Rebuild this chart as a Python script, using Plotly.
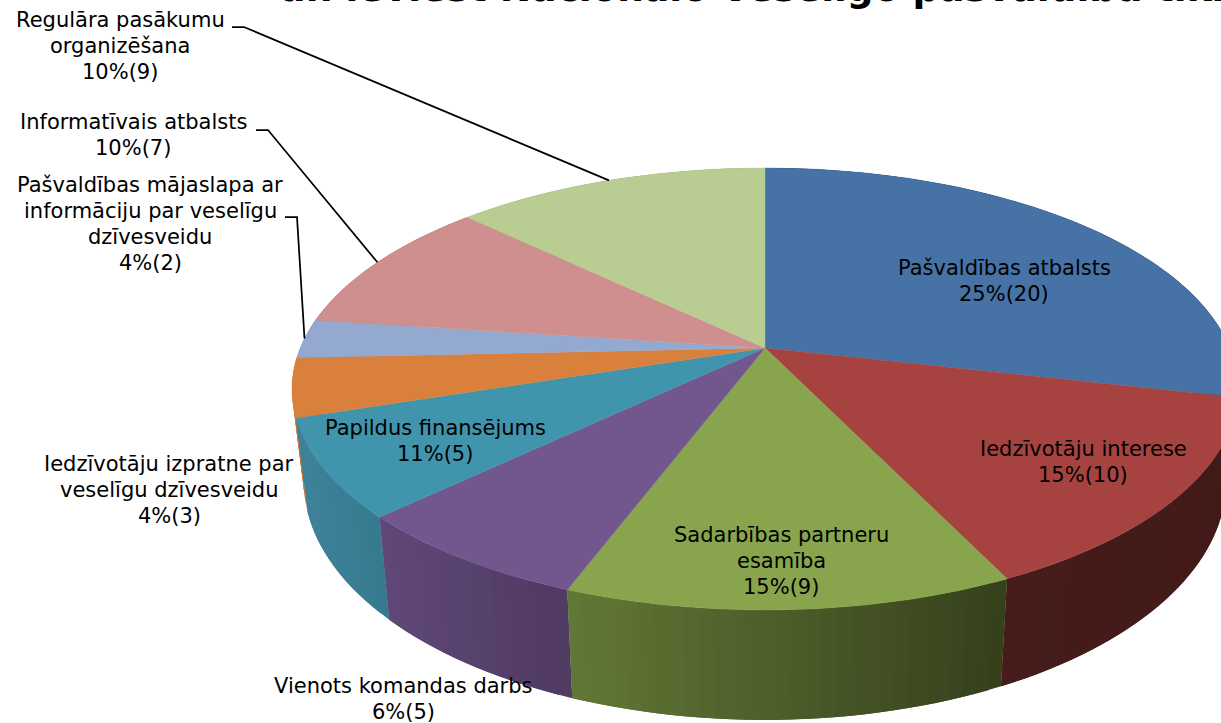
import math
import plotly.graph_objects as go

# ---- data ----
categories = ["Pašvaldības atbalsts", "Iedzīvotāju interese", "Sadarbības partneru<br>esamība",
              "Vienots komandas darbs", "Papildus finansējums",
              "Iedzīvotāju izpratne par<br>veselīgu dzīvesveidu",
              "Pašvaldības mājaslapa ar<br>informāciju par veselīgu<br>dzīvesveidu",
              "Informatīvais atbalsts", "Regulāra pasākumu<br>organizēšana"]
counts = [20, 10, 9, 5, 5, 3, 2, 7, 9]
percents = [25, 15, 15, 6, 11, 4, 4, 10, 10]
top_colors = ["#4672A6", "#A64340", "#88A54D", "#72578E", "#4095AD", "#D8803C", "#93A9CF", "#CF8F8E", "#B9CC92"]
side_left = ["#2a4468", "#451C19", "#627836", "#5F4878", "#3F8299", "#C9763A", "#7f93b5", "#b07a79", "#9fb07c"]
side_right = ["#2a4468", "#421A18", "#35401C", "#4F3A62", "#367A90", "#C9763A", "#7f93b5", "#b07a79", "#9fb07c"]
label_pos = [(1004, 281), (1083, 462), (781, 561), (403, 699), (435, 441), (169, 490), (150, 224), (133, 135), (120, 46)]
title_text = "un ieviest Nacionālo Veselīgo pašvaldību tīklā"
leaders = {8: [(232, 27), (244, 27)], 7: [(256, 130), (268, 130)], 6: [(285, 217), (297, 217)]}

# ---- projection of the tilted pie ----
CX, CY = 765.0, 348.0
A, B, K = 464.8, 213.4, 0.1855
XS, YS, DROP = 0.975, 1.078, 89.5
LINE_STEP = 25.8


def rim(t):
    w = 1 + K * math.cos(t)
    return CX + A * math.sin(t) / w, CY - B * math.cos(t) / w


def ring(t):
    x, y = rim(t)
    return CX + XS * (x - CX), CY + DROP + YS * (y - CY)


def mix(c1, c2, f):
    a = [int(c1[i:i + 2], 16) for i in (1, 3, 5)]
    b = [int(c2[i:i + 2], 16) for i in (1, 3, 5)]
    return "#%02x%02x%02x" % tuple(round(p + (q - p) * f) for p, q in zip(a, b))


total = sum(counts)
edges = [0.0]
for c in counts:
    edges.append(edges[-1] + 2 * math.pi * c / total)

fig = go.Figure()


def poly(xs, ys, color, width=0.0):
    fig.add_trace(go.Scatter(x=xs, y=ys, mode="lines", fill="toself", fillcolor=color,
                             line=dict(color=color, width=width), hoverinfo="skip", showlegend=False))


# walls, back to front; every strip runs on under the next one so no seam shows
order = sorted(range(len(counts)), key=lambda i: -abs((edges[i] + edges[i + 1]) / 2 - math.pi))
for i in order:
    a, b = edges[i], edges[i + 1]
    steps = max(2, int((b - a) / math.radians(1.5)))
    x_left, x_right = min(rim(a)[0], rim(b)[0]), max(rim(a)[0], rim(b)[0])
    for s in range(steps):
        t0 = a + (b - a) * s / steps
        t1 = a + (b - a) * min(s + 2, steps) / steps
        tm = a + (b - a) * (s + 0.5) / steps
        pts_top = [rim(t0), rim((t0 + t1) / 2), rim(t1)]
        pts_bot = [ring(t1), ring((t0 + t1) / 2), ring(t0)]
        f = (rim(tm)[0] - x_left) / max(x_right - x_left, 1)
        outline = pts_top + pts_bot + [pts_top[0]]
        poly([p[0] for p in outline], [p[1] for p in outline],
             mix(side_left[i], side_right[i], min(max(f, 0), 1)))

# top faces
for i in range(len(counts)):
    a, b = edges[i], edges[i + 1]
    steps = max(2, int((b - a) / math.radians(1)))
    pts = [rim(a + (b - a) * s / steps) for s in range(steps + 1)]
    poly([CX] + [p[0] for p in pts] + [CX], [CY] + [p[1] for p in pts] + [CY], top_colors[i], 0.4)

# leader lines end on the rim at the slice's mid angle
for i, pts in leaders.items():
    end = rim((edges[i] + edges[i + 1]) / 2)
    fig.add_trace(go.Scatter(x=[p[0] for p in pts] + [end[0]], y=[p[1] for p in pts] + [end[1]], mode="lines",
                             line=dict(color="#000000", width=1.75), hoverinfo="skip", showlegend=False))

annotations = []
for name, cnt, pct, (lx, ly) in zip(categories, counts, percents, label_pos):
    lines = name.split("<br>") + [f"{pct}%({cnt})"]
    for k, line in enumerate(lines):
        annotations.append(dict(x=lx, y=ly + (k - (len(lines) - 1) / 2) * LINE_STEP, xref="x", yref="y",
                                text=line, showarrow=False, xanchor="center", yanchor="middle", align="center",
                                font=dict(family="DejaVu Sans, Verdana", size=21, color="#000000")))
annotations.append(dict(x=278, y=11, xref="x", yref="y", text=title_text, showarrow=False, xanchor="left",
                        yanchor="bottom", align="left", borderpad=0,
                        font=dict(family="DejaVu Sans, Verdana", size=37.5, color="#000000", weight="bold")))

fig.update_layout(width=1221, height=723, margin=dict(l=0, r=0, t=0, b=0), autosize=False,
                  paper_bgcolor="#FFFFFF", plot_bgcolor="#FFFFFF", showlegend=False,
                  xaxis=dict(range=[0, 1221], visible=False, fixedrange=True),
                  yaxis=dict(range=[723, 0], visible=False, fixedrange=True),
                  annotations=annotations)
fig.write_html("out.html", config={"displayModeBar": False},
               post_script="document.body.style.margin='0';document.body.style.overflow='hidden';")
